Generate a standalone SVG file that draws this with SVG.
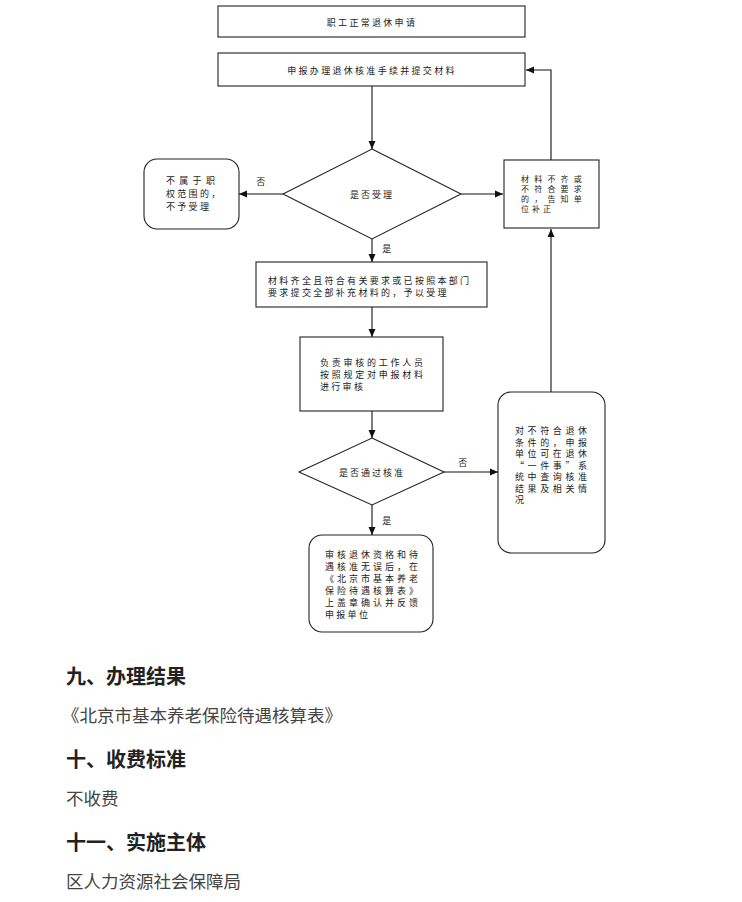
<svg xmlns="http://www.w3.org/2000/svg" width="742" height="902" viewBox="0 0 742 902">
<defs>
<marker id="ah" markerWidth="8" markerHeight="8" refX="8" refY="4" orient="auto" markerUnits="userSpaceOnUse">
<path d="M0,0.5 L8,4 L0,7.5 Z" fill="#111"/>
</marker>
<style>
.box{fill:#fff;stroke:#222;stroke-width:1.1}
.t{font-family:"Noto Sans CJK SC","Noto Sans",sans-serif;font-size:9px;fill:#222;letter-spacing:2.3px;dominant-baseline:central}
.s{font-size:8px;letter-spacing:5.2px}
.c{text-anchor:middle}
.ln{stroke:#111;stroke-width:1.1;fill:none}
.h{font-family:"Noto Sans CJK SC","Noto Sans",sans-serif;font-size:20px;font-weight:bold;fill:#222;dominant-baseline:central}
.b{font-family:"Noto Sans CJK SC","Noto Sans",sans-serif;font-size:17.5px;fill:#444;dominant-baseline:central}
</style>
</defs>
<rect width="742" height="902" fill="#fff"/>
<g id="connectors">
<path class="ln" d="M372,86 V149" marker-end="url(#ah)"/>
<path class="ln" d="M283,194 H239" marker-end="url(#ah)"/>
<path class="ln" d="M461,194 H503" marker-end="url(#ah)"/>
<path class="ln" d="M372,239 V262" marker-end="url(#ah)"/>
<path class="ln" d="M551,160 V70 H526" marker-end="url(#ah)"/>
<path class="ln" d="M551,392 V229" marker-end="url(#ah)"/>
<path class="ln" d="M372,307 V337" marker-end="url(#ah)"/>
<path class="ln" d="M372,411 V438" marker-end="url(#ah)"/>
<path class="ln" d="M444,472 H498" marker-end="url(#ah)"/>
<path class="ln" d="M372,505 V535" marker-end="url(#ah)"/>
<text class="t c" x="262" y="181">否</text>
<text class="t c" x="388" y="248">是</text>
<text class="t c" x="464" y="462">否</text>
<text class="t c" x="388" y="520">是</text>
</g>
<g id="n1">
<rect class="box" x="218" y="6" width="307" height="31"/>
<text class="t c" x="372" y="22">职工正常退休申请</text>
</g>
<g id="n2">
<rect class="box" x="218" y="53" width="307" height="33"/>
<text class="t c" x="372" y="70">申报办理退休核准手续并提交材料</text>
</g>
<g id="d1">
<polygon class="box" points="372,149 461,194 372,239 283,194"/>
<text class="t c" x="372" y="194" style="letter-spacing:2px">是否受理</text>
</g>
<g id="n3">
<rect class="box" x="144" y="159" width="95" height="70" rx="13"/>
<text class="t"><tspan x="166" y="180" style="letter-spacing:4.3px">不属于职</tspan><tspan x="166" y="193">权范围的，</tspan><tspan x="166" y="206">不予受理</tspan></text>
</g>
<g id="n4">
<rect class="box" x="504" y="160" width="95" height="68"/>
<text class="t s"><tspan x="521" y="178">材料不齐或</tspan><tspan x="521" y="188">不符合要求</tspan><tspan x="521" y="198">的，告知单</tspan><tspan x="521" y="208" style="letter-spacing:3px">位补正</tspan></text>
</g>
<g id="n5">
<rect class="box" x="256" y="262" width="231" height="45"/>
<text class="t"><tspan x="268" y="279.5">材料齐全且符合有关要求或已按照本部门</tspan><tspan x="268" y="291.5">要求提交全部补充材料的，予以受理</tspan></text>
</g>
<g id="n6">
<rect class="box" x="300" y="337" width="143" height="74"/>
<text class="t"><tspan x="320" y="362" style="letter-spacing:2.75px">负责审核的工作人员</tspan><tspan x="320" y="374" style="letter-spacing:2.75px">按照规定对申报材料</tspan><tspan x="320" y="386">进行审核</tspan></text>
</g>
<g id="d2">
<polygon class="box" points="372,438 444,472 372,505 299,472"/>
<text class="t c" x="372" y="472" style="letter-spacing:2px">是否通过核准</text>
</g>
<g id="n7">
<rect class="box" x="498" y="392" width="107" height="161" rx="13"/>
<text class="t" style="letter-spacing:3.6px"><tspan x="515" y="430">对不符合退休</tspan><tspan x="515" y="441.5">条件的，申报</tspan><tspan x="515" y="453">单位可在退休</tspan><tspan x="515" y="464.5">“一件事”系</tspan><tspan x="515" y="476">统中查询核准</tspan><tspan x="515" y="487.5">结果及相关情</tspan><tspan x="515" y="499">况</tspan></text>
</g>
<g id="n8">
<rect class="box" x="309" y="535" width="124" height="97" rx="13"/>
<text class="t" style="letter-spacing:3px"><tspan x="325" y="554">审核退休资格和待</tspan><tspan x="325" y="566">遇核准无误后，在</tspan><tspan x="325" y="578">《北京市基本养老</tspan><tspan x="325" y="590">保险待遇核算表》</tspan><tspan x="325" y="602">上盖章确认并反馈</tspan><tspan x="325" y="614" style="letter-spacing:2.3px">申报单位</tspan></text>
</g>
<g id="text-section">
<text class="h" x="66" y="675">九、办理结果</text>
<text class="b" x="62" y="714">《北京市基本养老保险待遇核算表》</text>
<text class="h" x="66" y="758">十、收费标准</text>
<text class="b" x="66" y="797">不收费</text>
<text class="h" x="66" y="841">十一、实施主体</text>
<text class="b" x="66" y="880">区人力资源社会保障局</text>
</g>
</svg>
